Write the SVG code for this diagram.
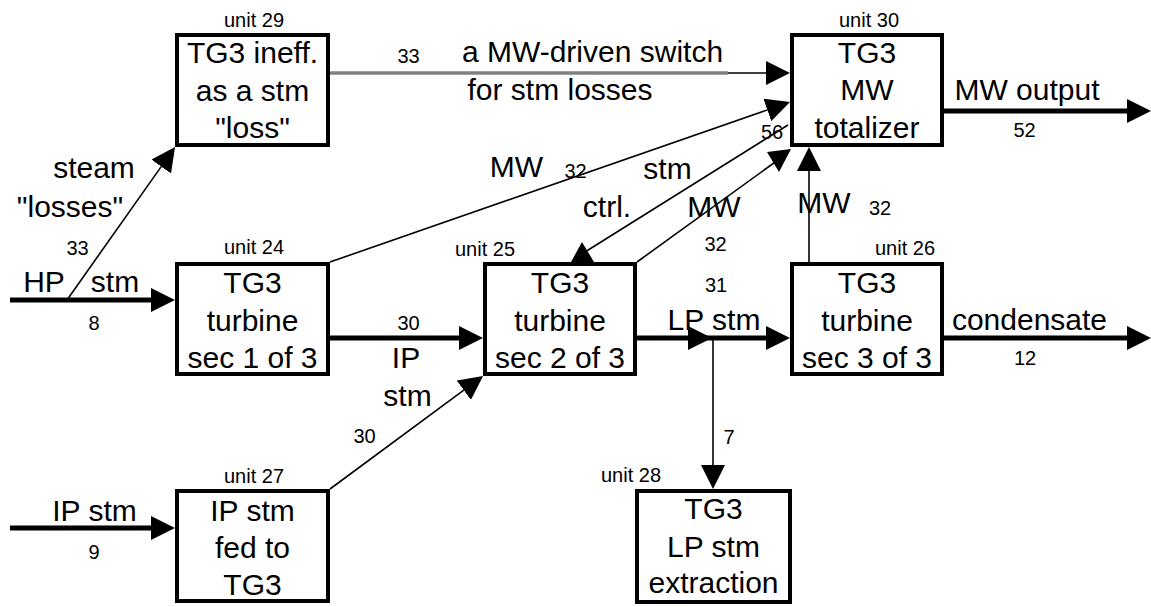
<svg xmlns="http://www.w3.org/2000/svg" width="1151" height="607" viewBox="0 0 1151 607">
<style>
text{font-family:"Liberation Sans",Arial,sans-serif;fill:#000}
.b{font-size:30px;text-anchor:middle}
.s{font-size:20px;text-anchor:middle}
.box{fill:#fff;stroke:#000;stroke-width:4}
.thick{stroke:#000;stroke-width:5;fill:none}
.thin{stroke:#000;stroke-width:1.6;fill:none}
.grey{stroke:#808080;stroke-width:3.5;fill:none}
.ah{fill:#000}
</style>
<defs>
<marker id="arr" markerUnits="userSpaceOnUse" markerWidth="24" markerHeight="24" viewBox="0 0 24 24" refX="0" refY="12" orient="auto">
<path d="M0,0 L24,12 L0,24 z" fill="#000"/>
</marker>
</defs>
<rect width="1151" height="607" fill="#fff"/>
<g id="connectors">
<line class="thick" x1="10" y1="300" x2="151" y2="300" marker-end="url(#arr)"/>
<line class="thick" x1="10" y1="528" x2="151" y2="528" marker-end="url(#arr)"/>
<line class="thick" x1="330" y1="338" x2="459" y2="338" marker-end="url(#arr)"/>
<polyline class="thick" points="637,338 688,338 766,338" marker-mid="url(#arr)" marker-end="url(#arr)"/>
<line class="thick" x1="944" y1="111" x2="1127" y2="111" marker-end="url(#arr)"/>
<line class="thick" x1="944" y1="338" x2="1127" y2="338" marker-end="url(#arr)"/>
<line class="thin" x1="713" y1="338" x2="713" y2="465" marker-end="url(#arr)"/>
<line class="thin" x1="809" y1="262" x2="809" y2="171" marker-end="url(#arr)"/>
<line class="thin" x1="67" y1="300" x2="161.2" y2="166.6" marker-end="url(#arr)"/>
<line class="grey" x1="330" y1="73" x2="728" y2="73"/>
<line class="thin" x1="728" y1="73" x2="766" y2="73" stroke-width="2" marker-end="url(#arr)"/>
<line class="thin" x1="330" y1="262" x2="767.3" y2="109.9" marker-end="url(#arr)"/>
<line class="thin" x1="330" y1="489" x2="463.8" y2="390.2" marker-end="url(#arr)"/>
<line class="thin" x1="788" y1="125" x2="585" y2="252"/>
<polygon class="ah" points="571,262 594,262 582,242"/>
<line class="thin" x1="637" y1="262" x2="778" y2="160"/>
<polygon class="ah" points="767,152 791,149 779,172"/>
</g>
<g id="labels">
<text class="b" x="94" y="178">steam</text>
<text class="b" x="70" y="217">"losses"</text>
<text class="s" x="77.5" y="255">33</text>
<text class="b" x="44" y="292">HP</text>
<text class="b" x="115" y="292">stm</text>
<text class="s" x="94" y="330">8</text>
<text class="s" x="408.5" y="63">33</text>
<text class="b" x="592.5" y="62">a MW-driven switch</text>
<text class="b" x="560" y="100">for stm losses</text>
<text class="b" x="516.5" y="177">MW</text>
<text class="s" x="575.5" y="178">32</text>
<text class="b" x="667.5" y="179">stm</text>
<text class="b" x="607" y="217">ctrl.</text>
<text class="s" x="772" y="139">56</text>
<text class="b" x="714" y="217">MW</text>
<text class="s" x="715.5" y="251">32</text>
<text class="s" x="716" y="292">31</text>
<text class="b" x="714" y="330">LP stm</text>
<text class="s" x="729" y="444">7</text>
<text class="s" x="408.5" y="330">30</text>
<text class="b" x="406" y="368">IP</text>
<text class="b" x="407.5" y="406">stm</text>
<text class="s" x="364.5" y="443">30</text>
<text class="b" x="94.5" y="521">IP stm</text>
<text class="s" x="94" y="559">9</text>
<text class="b" x="824" y="213">MW</text>
<text class="s" x="880" y="215">32</text>
<text class="b" x="1027" y="100">MW output</text>
<text class="s" x="1024.5" y="137">52</text>
<text class="b" x="1029.5" y="330">condensate</text>
<text class="s" x="1025" y="365">12</text>
</g>
<g id="unit29">
<rect class="box" x="177" y="35" width="151" height="110"/>
<text class="s" x="254" y="27">unit 29</text>
<text class="b" x="252.5" y="63">TG3 ineff.</text>
<text class="b" x="252.5" y="101">as a stm</text>
<text class="b" x="252.5" y="138">"loss"</text>
</g>
<g id="unit30">
<rect class="box" x="792" y="35" width="150" height="110"/>
<text class="s" x="869" y="27">unit 30</text>
<text class="b" x="867" y="63">TG3</text>
<text class="b" x="867" y="100">MW</text>
<text class="b" x="867" y="138">totalizer</text>
</g>
<g id="unit24">
<rect class="box" x="177" y="264" width="151" height="110"/>
<text class="s" x="254" y="254">unit 24</text>
<text class="b" x="252.5" y="293">TG3</text>
<text class="b" x="252.5" y="331">turbine</text>
<text class="b" x="252.5" y="368">sec 1 of 3</text>
</g>
<g id="unit25">
<rect class="box" x="485" y="264" width="150" height="110"/>
<text class="s" x="485" y="256">unit 25</text>
<text class="b" x="560" y="293">TG3</text>
<text class="b" x="560" y="331">turbine</text>
<text class="b" x="560" y="368">sec 2 of 3</text>
</g>
<g id="unit26">
<rect class="box" x="792" y="264" width="150" height="110"/>
<text class="s" x="905" y="255">unit 26</text>
<text class="b" x="867" y="293">TG3</text>
<text class="b" x="867" y="331">turbine</text>
<text class="b" x="867" y="368">sec 3 of 3</text>
</g>
<g id="unit27">
<rect class="box" x="177" y="491" width="151" height="110"/>
<text class="s" x="254" y="483">unit 27</text>
<text class="b" x="252.5" y="521">IP stm</text>
<text class="b" x="252.5" y="558">fed to</text>
<text class="b" x="252.5" y="595">TG3</text>
</g>
<g id="unit28">
<rect class="box" x="637" y="491" width="153" height="111"/>
<text class="s" x="631" y="482">unit 28</text>
<text class="b" x="713.5" y="519">TG3</text>
<text class="b" x="713.5" y="557">LP stm</text>
<text class="b" x="713.5" y="593">extraction</text>
</g>
</svg>
